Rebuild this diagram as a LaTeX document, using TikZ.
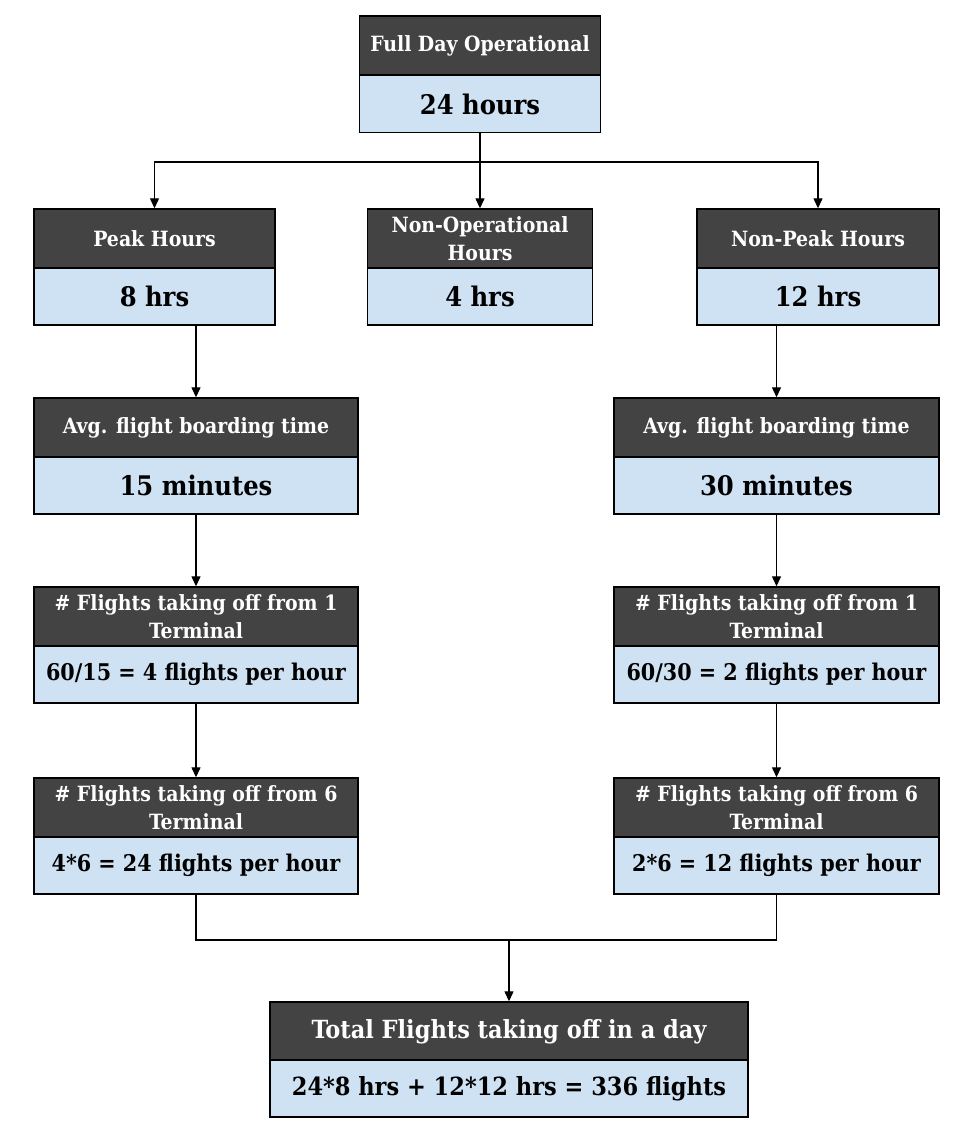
\documentclass[tikz,border=0pt]{standalone}
\usepackage{fontspec}
\setmainfont{DejaVu Serif Condensed}
\usetikzlibrary{arrows.meta}
\definecolor{hdgray}{HTML}{434343}
\definecolor{valblue}{HTML}{CFE2F3}
\begin{document}
\begin{tikzpicture}[x=0.5pt, y=-0.5pt,
    hd/.style={draw, line width=0.7pt, fill=hdgray, text=white, align=center, inner sep=0pt,
        minimum height=29.5pt, font=\bfseries\fontsize{10.5}{14}\selectfont},
    val/.style={draw, line width=0.7pt, fill=valblue, inner sep=0pt,
        minimum height=28.5pt, font=\bfseries\fontsize{11.5}{14}\selectfont},
    bigval/.style={val, font=\bfseries\fontsize{13.5}{16}\selectfont},
    link/.style={line width=0.65pt},
    arr/.style={link, -{Triangle[length=5pt,width=4.5pt]}}]
        \useasboundingbox (0,0) rectangle (959,1133);

        \node[hd, minimum width=120.5pt] (full) at (480,45.5) {Full Day Operational};
        \node[bigval, minimum width=120.5pt] (fullv) at (480,104) {24 hours};

        \node[hd, minimum width=120.5pt] (peak) at (154.5,238.5) {Peak Hours};
        \node[bigval, minimum width=120.5pt] (peakv) at (154.5,296.5) {8 hrs};
        \node[hd, minimum width=112.5pt] (nonop) at (480,238.5) {Non-Operational\\Hours};
        \node[bigval, minimum width=112.5pt] (nonopv) at (480,296.5) {4 hrs};
        \node[hd, minimum width=121pt] (nonpk) at (818,238.5) {Non-Peak Hours};
        \node[bigval, minimum width=121pt] (nonpkv) at (818,296.5) {12 hrs};

        \node[hd, minimum width=162pt] (avgl) at (196,427.5) {Avg. flight boarding time};
        \node[bigval, minimum width=162pt] (avglv) at (196,485.5) {15 minutes};
        \node[hd, minimum width=162.5pt] (avgr) at (776.5,427.5) {Avg. flight boarding time};
        \node[bigval, minimum width=162.5pt] (avgrv) at (776.5,485.5) {30 minutes};

        \node[hd, minimum width=162pt] (onel) at (196,616.5) {\# Flights taking off from 1\\Terminal};
        \node[val, minimum width=162pt] (onelv) at (196,674.5) {60/15 = 4 flights per hour};
        \node[hd, minimum width=162.5pt] (oner) at (776.5,616.5) {\# Flights taking off from 1\\Terminal};
        \node[val, minimum width=162.5pt] (onerv) at (776.5,674.5) {60/30 = 2 flights per hour};

        \node[hd, minimum width=162pt] (sixl) at (196,807.5) {\# Flights taking off from 6\\Terminal};
        \node[val, minimum width=162pt] (sixlv) at (196,865.5) {4*6 = 24 flights per hour};
        \node[hd, minimum width=162.5pt] (sixr) at (776.5,807.5) {\# Flights taking off from 6\\Terminal};
        \node[val, minimum width=162.5pt] (sixrv) at (776.5,865.5) {2*6 = 12 flights per hour};

        \node[hd, minimum width=239pt, font=\bfseries\fontsize{12.5}{14}\selectfont] (tot) at (509,1031.5) {Total Flights taking off in a day};
        \node[val, minimum width=239pt, font=\bfseries\fontsize{12.5}{15}\selectfont] (totv) at (509,1088.5) {24*8 hrs + 12*12 hrs = 336 flights};

        \coordinate (split) at (480,162);
        \coordinate (join) at (509,940);

        \draw[link] (fullv.south) -- (split);
        \draw[arr] (split) -| (peak.north);
        \draw[arr] (split) -- (nonop.north);
        \draw[arr] (split) -| (nonpk.north);
        \draw[arr] (peakv.south -| avgl.north) -- (avgl.north);
        \draw[arr] (nonpkv.south -| avgr.north) -- (avgr.north);
        \draw[arr] (avglv.south) -- (onel.north);
        \draw[arr] (avgrv.south) -- (oner.north);
        \draw[arr] (onelv.south) -- (sixl.north);
        \draw[arr] (onerv.south) -- (sixr.north);
        \draw[link] (sixlv.south) |- (join);
        \draw[link] (sixrv.south) |- (join);
        \draw[arr] (join) -- (tot.north);
    \end{tikzpicture}
\end{document}
